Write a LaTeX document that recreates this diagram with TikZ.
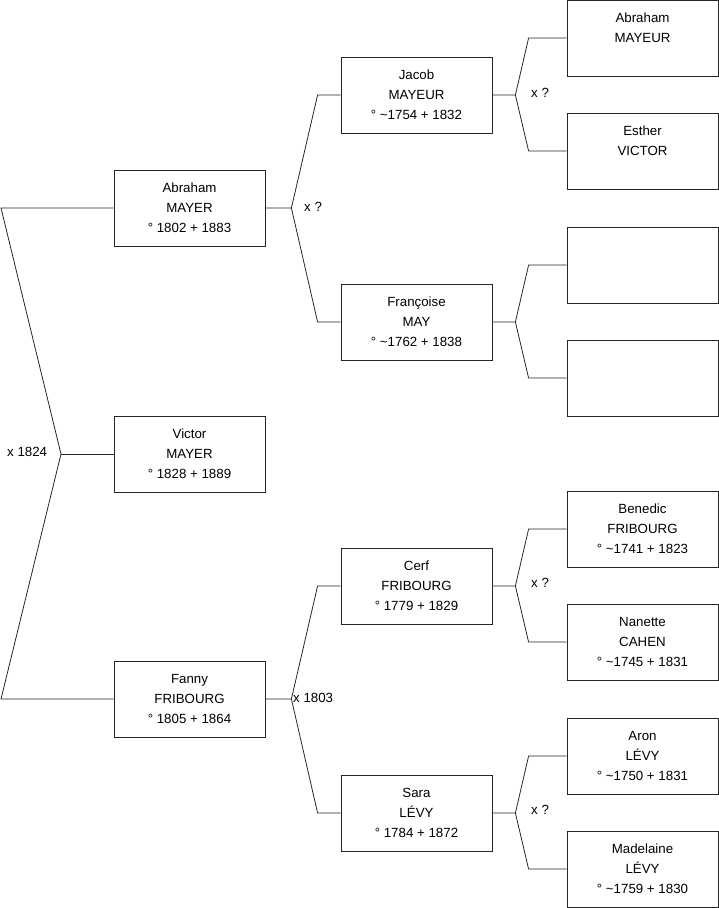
\documentclass[tikz,border=0pt]{standalone}
\usepackage{fontspec}
\setmainfont{Liberation Sans}
\begin{document}
\begin{tikzpicture}[x=1pt,y=-1pt,
  person/.style={draw=black!85, line width=0.8pt, minimum width=151pt, minimum height=76pt,
    inner sep=0pt, align=center, font=\fontsize{13.3}{20}\selectfont},
  link/.style={draw=black!85, line width=0.8pt},
  marr/.style={inner sep=0pt, anchor=west, font=\fontsize{13.3}{15}\selectfont}]
\useasboundingbox (0,0) rectangle (719,908);
% column 1
\node[person] (abraham) at (189.5,208) {Abraham\\MAYER\\° 1802 + 1883};
\node[person] (victor) at (189.5,454) {Victor\\MAYER\\° 1828 + 1889};
\node[person] (fanny) at (189.5,699) {Fanny\\FRIBOURG\\° 1805 + 1864};
% column 2
\node[person] (jacob) at (416.5,95) {Jacob\\MAYEUR\\° \textasciitilde1754 + 1832};
\node[person] (francoise) at (416.5,322) {Françoise\\MAY\\° \textasciitilde1762 + 1838};
\node[person] (cerf) at (416.5,586) {Cerf\\FRIBOURG\\° 1779 + 1829};
\node[person] (sara) at (416.5,813) {Sara\\LÉVY\\° 1784 + 1872};
% column 3
\node[person] (abrahamm) at (642.5,38) {Abraham\\MAYEUR\\\phantom{°}};
\node[person] (esther) at (642.5,151) {Esther\\VICTOR\\\phantom{°}};
\node[person] (e1) at (642.5,265) {};
\node[person] (e2) at (642.5,378) {};
\node[person] (benedic) at (642.5,529) {Benedic\\FRIBOURG\\° \textasciitilde1741 + 1823};
\node[person] (nanette) at (642.5,642) {Nanette\\CAHEN\\° \textasciitilde1745 + 1831};
\node[person] (aron) at (642.5,756) {Aron\\LÉVY\\° \textasciitilde1750 + 1831};
\node[person] (madelaine) at (642.5,869) {Madelaine\\LÉVY\\° \textasciitilde1759 + 1830};

% level 1 fork
\coordinate (f1) at (61,454);
\coordinate (ta) at (1,208);
\coordinate (tf) at (1,699);
\draw[link] (abraham.west) -- (ta) -- (f1) -- (tf) -- (fanny.west);
\draw[link] (f1) -- (victor.west);
\node[marr] at (7,452) {x 1824};

% level 2 forks
\draw[link] (abraham.east) -- ++(26,0) coordinate (f2)
  -- ([xshift=-23pt]jacob.west) -- (jacob.west);
\draw[link] (f2) -- ([xshift=-23pt]francoise.west) -- (francoise.west);
\node[marr] at (304,207) {x ?};

\draw[link] (fanny.east) -- ++(26,0) coordinate (f3)
  -- ([xshift=-23pt]cerf.west) -- (cerf.west);
\draw[link] (f3) -- ([xshift=-23pt]sara.west) -- (sara.west);
\node[marr] at (293,698) {x 1803};

% level 3 forks
\draw[link] (jacob.east) -- ++(23,0) coordinate (g1)
  -- ([xshift=-38pt]abrahamm.west) -- (abrahamm.west);
\draw[link] (g1) -- ([xshift=-38pt]esther.west) -- (esther.west);
\node[marr] at (531,93) {x ?};

\draw[link] (francoise.east) -- ++(23,0) coordinate (g2)
  -- ([xshift=-38pt]e1.west) -- (e1.west);
\draw[link] (g2) -- ([xshift=-38pt]e2.west) -- (e2.west);

\draw[link] (cerf.east) -- ++(23,0) coordinate (g3)
  -- ([xshift=-38pt]benedic.west) -- (benedic.west);
\draw[link] (g3) -- ([xshift=-38pt]nanette.west) -- (nanette.west);
\node[marr] at (531,583) {x ?};

\draw[link] (sara.east) -- ++(23,0) coordinate (g4)
  -- ([xshift=-38pt]aron.west) -- (aron.west);
\draw[link] (g4) -- ([xshift=-38pt]madelaine.west) -- (madelaine.west);
\node[marr] at (531,810) {x ?};
\end{tikzpicture}
\end{document}
